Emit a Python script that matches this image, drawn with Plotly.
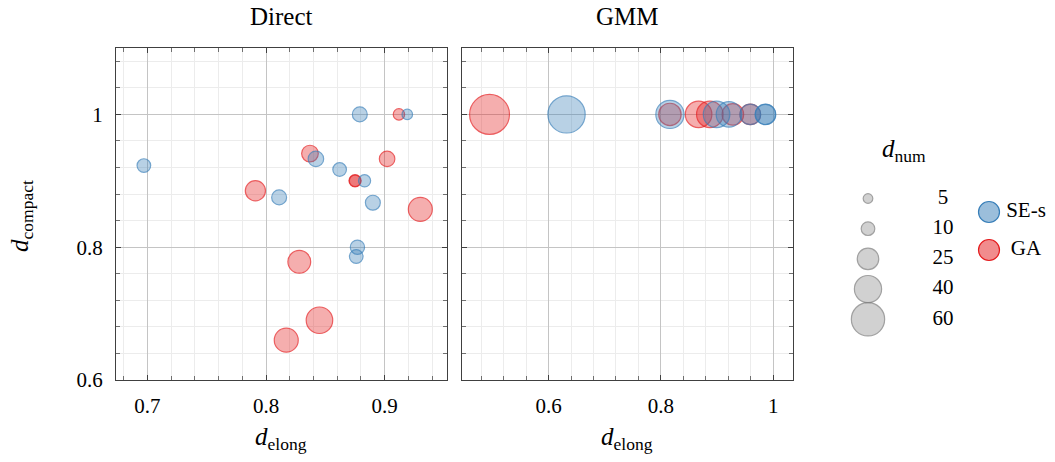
import numpy as np
import plotly.graph_objects as go

# ---------------- data ----------------
# Direct panel
direct_ses_x = [0.879, 0.919, 0.697, 0.842, 0.862, 0.883, 0.811, 0.890, 0.877, 0.876]
direct_ses_y = [1.000, 1.000, 0.923, 0.933, 0.917, 0.900, 0.875, 0.867, 0.800, 0.786]
direct_ses_n = [12, 6, 10, 13, 10, 8, 12, 12, 11, 10]

direct_ga_x = [0.912, 0.837, 0.902, 0.875, 0.875, 0.791, 0.930, 0.828, 0.845, 0.817]
direct_ga_y = [1.000, 0.941, 0.933, 0.900, 0.900, 0.885, 0.857, 0.778, 0.690, 0.660]
direct_ga_n = [7, 15, 13, 8, 7, 22, 31, 28, 38, 31]

# GMM panel
gmm_ses_x = [0.632, 0.816, 0.899, 0.921, 0.959, 0.986, 0.986]
gmm_ses_y = [1.0, 1.0, 1.0, 1.0, 1.0, 1.0, 1.0]
gmm_ses_n = [75, 43, 38, 35, 23, 23, 22]

gmm_ga_x = [0.495, 0.816, 0.867, 0.887, 0.928, 0.959]
gmm_ga_y = [1.0, 1.0, 1.0, 1.0, 1.0, 1.0]
gmm_ga_n = [86, 27, 38, 38, 25, 23]

legend_sizes = [5, 10, 25, 40, 60]
legend_labels = ["5", "10", "25", "40", "60"]
series_names = ["SE-s", "GA"]
panel_titles = ["Direct", "GMM"]

# ---------------- style ----------------
W, H = 1055, 462
FONT = "Liberation Serif"
BLUE, BLUE_F = "#377eb8", "rgba(55,126,184,0.5)"
RED, RED_F = "#e41a1c", "rgba(228,26,28,0.5)"
GRAY, GRAY_F = "#7a7a7a", "rgba(125,125,125,0.5)"
K = 4.3  # marker diameter per sqrt(d_num)
TICK_FS = 21
LABEL_FS = 25


def sz(n):
    return list(K * np.sqrt(np.array(n, dtype=float)))


def px_x(p):
    return p / W


def px_y(p):
    return 1 - p / H


fig = go.Figure()


def add(x, y, n, line, fill, xa, ya):
    fig.add_trace(go.Scatter(
        x=x, y=y, mode="markers", xaxis=xa, yaxis=ya, showlegend=False,
        hoverinfo="skip",
        marker=dict(size=sz(n), color=fill, line=dict(color=line, width=1.2),
                    sizemode="diameter")))


add(direct_ga_x, direct_ga_y, direct_ga_n, RED, RED_F, "x", "y")
add(direct_ses_x, direct_ses_y, direct_ses_n, BLUE, BLUE_F, "x", "y")
add(gmm_ga_x, gmm_ga_y, gmm_ga_n, RED, RED_F, "x2", "y2")
add(gmm_ses_x, gmm_ses_y, gmm_ses_n, BLUE, BLUE_F, "x2", "y2")

# legend panel (pixel-like coordinates)
leg_y = [198.5 + 30.2 * i for i in range(len(legend_sizes))]
fig.add_trace(go.Scatter(
    x=[868] * len(legend_sizes), y=leg_y, mode="markers", xaxis="x3", yaxis="y3",
    showlegend=False, hoverinfo="skip",
    marker=dict(size=sz(legend_sizes), color=GRAY_F, line=dict(color=GRAY, width=1.2))))
fig.add_trace(go.Scatter(
    x=[943] * len(legend_sizes), y=leg_y, mode="text", text=legend_labels,
    textposition="middle center", xaxis="x3", yaxis="y3", showlegend=False,
    hoverinfo="skip", textfont=dict(family=FONT, size=TICK_FS, color="black")))
ser_y = [212, 250]
fig.add_trace(go.Scatter(
    x=[989, 989], y=ser_y, mode="markers", xaxis="x3", yaxis="y3",
    showlegend=False, hoverinfo="skip",
    marker=dict(size=21, color=[BLUE_F, RED_F], line=dict(color=[BLUE, RED], width=1.2))))
fig.add_trace(go.Scatter(
    x=[1026, 1026], y=ser_y, mode="text", text=series_names,
    textposition="middle center", xaxis="x3", yaxis="y3", showlegend=False,
    hoverinfo="skip", textfont=dict(family=FONT, size=TICK_FS, color="black")))

FRAME = "#404040"
common = dict(showline=True, linecolor=FRAME, linewidth=1, mirror="ticks",
              ticks="inside", ticklen=5, tickcolor=FRAME, tickwidth=1,
              showgrid=True, gridcolor="#c4c4c4", gridwidth=1, zeroline=False,
              automargin=False,
              tickfont=dict(family=FONT, size=TICK_FS, color="black"))


def minor(d):
    return dict(dtick=d, ticks="inside", ticklen=4, tickcolor="#707070",
                showgrid=True, gridcolor="#ececec")


ydom = [px_y(380), px_y(48)]

fig.update_layout(
    width=W, height=H,
    margin=dict(l=0, r=0, t=0, b=0, pad=0, autoexpand=False),
    paper_bgcolor="white", plot_bgcolor="white",
    font=dict(family=FONT, color="black"),
    xaxis=dict(domain=[px_x(116), px_x(447)], range=[0.6735, 0.9525],
               tick0=0, dtick=0.1, minor=minor(0.02), anchor="y",
               ticklabelstandoff=7, **common),
    yaxis=dict(domain=ydom, range=[0.6, 1.1], tick0=0, dtick=0.2,
               minor=minor(0.04), anchor="x", ticklabelstandoff=8, **common),
    xaxis2=dict(domain=[px_x(462), px_x(793)], range=[0.446, 1.035],
                tick0=0, dtick=0.2, minor=minor(0.04), anchor="y2",
                ticklabelstandoff=7, **common),
    yaxis2=dict(domain=ydom, range=[0.6, 1.1], tick0=0, dtick=0.2,
                minor=minor(0.04), anchor="x2", showticklabels=False, **common),
    xaxis3=dict(domain=[px_x(800), 1.0], range=[800, W], visible=False,
                fixedrange=True, automargin=False),
    yaxis3=dict(domain=[0, 1], range=[H, 0], visible=False, fixedrange=True,
                anchor="x3", automargin=False),
)

ann = []
for title, cx in zip(panel_titles, [281, 627]):
    ann.append(dict(text=title, x=px_x(cx), y=px_y(16), xref="paper", yref="paper",
                    showarrow=False, font=dict(family=FONT, size=LABEL_FS, color="black"),
                    xanchor="center", yanchor="middle"))
    ann.append(dict(text="<i>d</i><sub>elong</sub>", x=px_x(cx), y=px_y(438),
                    xref="paper", yref="paper", showarrow=False,
                    font=dict(family=FONT, size=LABEL_FS, color="black"),
                    xanchor="center", yanchor="middle"))
ann.append(dict(text="<i>d</i><sub>compact</sub>", x=px_x(22), y=px_y(216),
                xref="paper", yref="paper", showarrow=False, textangle=-90,
                font=dict(family=FONT, size=LABEL_FS, color="black"),
                xanchor="center", yanchor="middle"))
ann.append(dict(text="<i>d</i><sub>num</sub>", x=px_x(904), y=px_y(150),
                xref="paper", yref="paper", showarrow=False,
                font=dict(family=FONT, size=LABEL_FS, color="black"),
                xanchor="center", yanchor="middle"))
fig.update_layout(annotations=ann)

fig.write_html("out.html", config={"displayModeBar": False},
               post_script="document.body.style.margin='0px';")
